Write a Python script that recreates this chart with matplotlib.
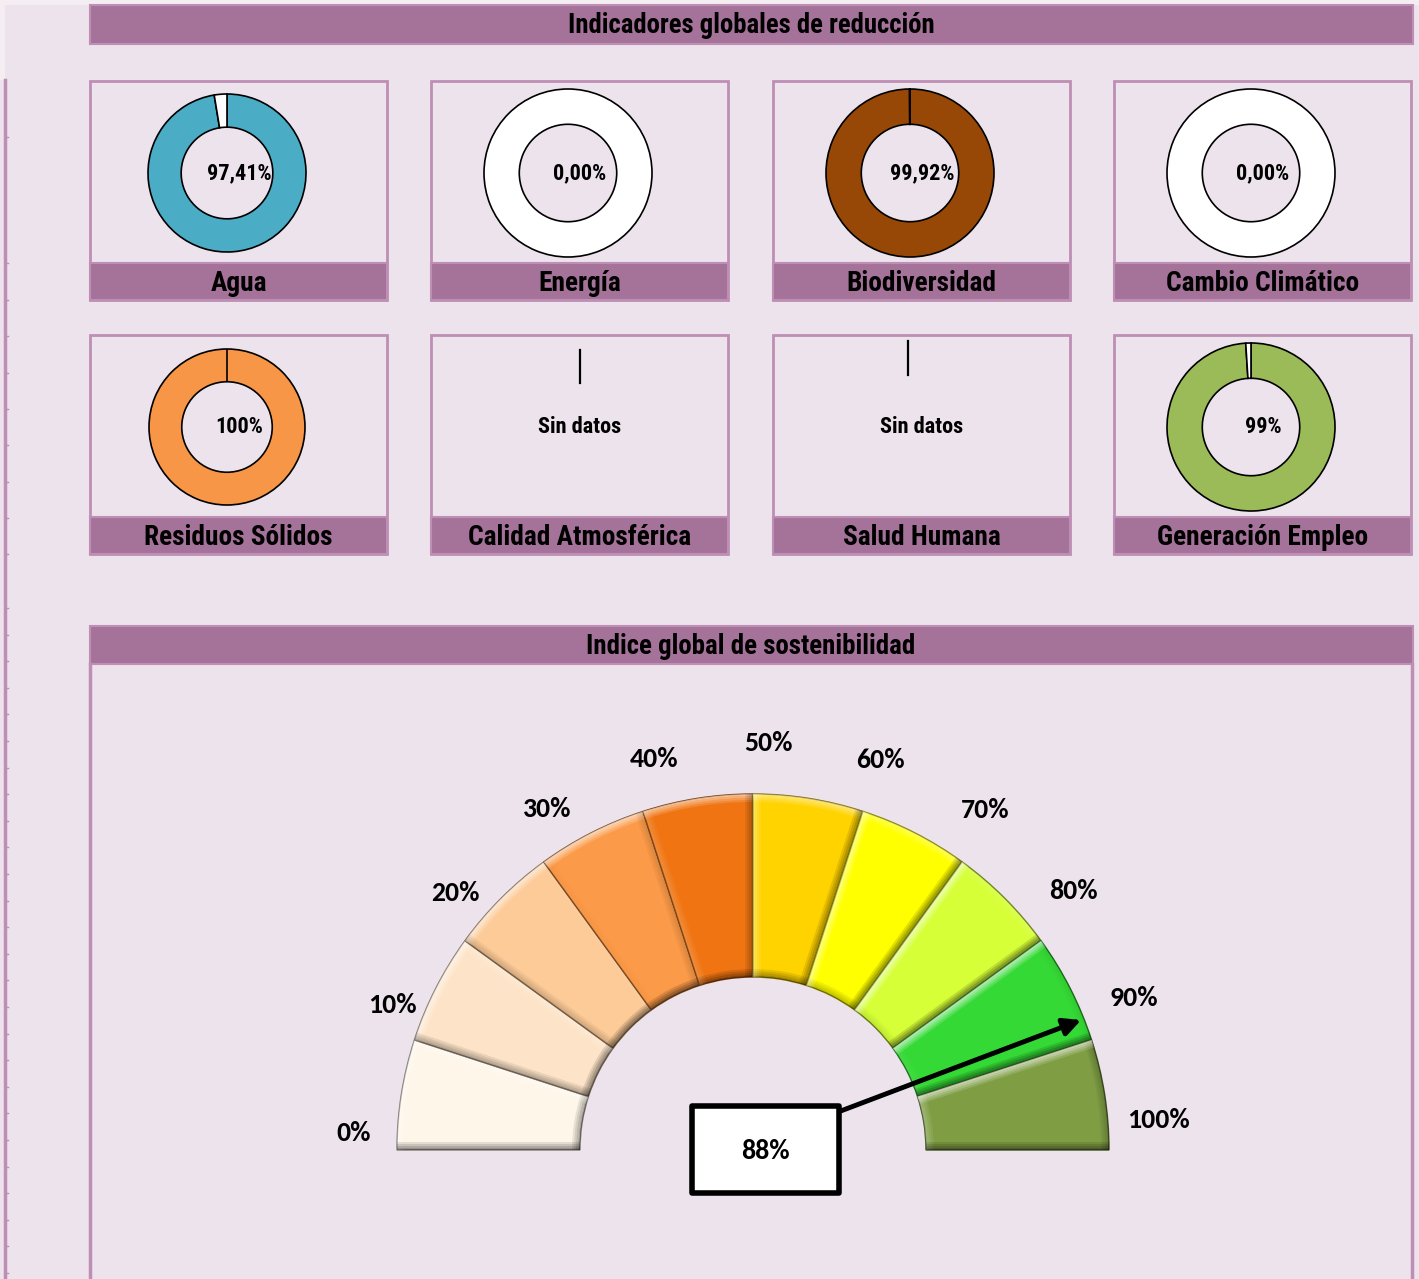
import numpy as np
import matplotlib
matplotlib.use("Agg")
import matplotlib.pyplot as plt
from matplotlib.patches import Rectangle, Wedge, Polygon
from matplotlib import font_manager

# Indicadores globales de reducción (%); None = sin datos
areas = ["Agua", "Energía", "Biodiversidad", "Cambio Climático",
         "Residuos Sólidos", "Calidad Atmosférica", "Salud Humana", "Generación Empleo"]
valores = [97.41, 0.00, 99.92, 0.00, 100, None, None, 99]
decimales = [2, 2, 2, 2, 0, 0, 0, 0]
colores = ["#4BACC6", "#FFFFFF", "#974806", "#FFFFFF",
           "#F79646", None, None, "#9BBB59"]

# Indice global de sostenibilidad
tramos = [0, 10, 20, 30, 40, 50, 60, 70, 80, 90, 100]
colores_tramos = ["#FEF6E9", "#FDE4C8", "#FDCB98", "#FB9A48", "#F07512",
                  "#FFD300", "#FFFF00", "#D6FF38", "#35D935", "#7F9E44"]
indice_global = 88

FONDO = "#EDE3EC"
BARRA = "#A57299"
BORDE = "#BE8EB5"


def peso(f):
    try:
        return int(f.weight)
    except (TypeError, ValueError):
        return 700 if "bold" in str(f.weight) else 400


def elegir(candidatas):
    fuentes = font_manager.fontManager.ttflist
    for c in candidatas:
        if any(f.name == c and peso(f) >= 700 and f.style == "normal" for f in fuentes):
            return c
    return "DejaVu Sans"


ESTRECHA = elegir(["Liberation Sans Narrow", "Arial Narrow", "Archivo Narrow",
                   "Roboto Condensed", "PT Sans Narrow", "Fira Sans Condensed",
                   "Open Sans Condensed", "Sofia Sans Condensed"])
GAUGE_FONT = elegir(["Carlito", "Lato", "Open Sans", "Liberation Sans"])

W, H = 1419, 1279
fig = plt.figure(figsize=(W / 100, H / 100), dpi=100)
fig.patch.set_facecolor(FONDO)

bg = fig.add_axes([0, 0, 1, 1])
bg.set_xlim(0, W)
bg.set_ylim(H, 0)
bg.axis("off")


def px_axes(x0, y0, w, h):
    ax = fig.add_axes([x0 / W, 1 - (y0 + h) / H, w / W, h / H])
    ax.axis("off")
    return ax


def fmt(v, d):
    return f"{v:.{d}f}".replace(".", ",") + "%"


# borde izquierdo de la hoja
bg.add_patch(Rectangle((0, 0), W, 5, fc="#F4EEF3", ec="none"))
bg.add_patch(Rectangle((0, 0), 5, 80, fc="#F4EEF3", ec="none"))
bg.plot([5, 5], [80, H], color=BORDE, lw=2.5)
marcas = [137, 263] + list(np.arange(300, 590, 36.3)) + list(np.arange(608, H, 26.6))
for y in marcas:
    bg.plot([6, 7.5], [y, y], color=BORDE, lw=1)

# cabecera
bg.add_patch(Rectangle((90, 5), 1323, 39, fc=BARRA, ec=BORDE, lw=1.5))
bg.text(751, 25.5, "Indicadores globales de reducción", ha="center", va="center",
        fontsize=19.3, fontweight="bold", family=ESTRECHA)

col_x = [90, 431, 773, 1114]
fila_y = [81, 335]
radios = [79, 84, 84, 84, 78, 0, 0, 84]
lineas_sin_datos = {5: (149, 15, 48), 6: (135, 6, 40)}

for i, area in enumerate(areas):
    f, c = divmod(i, 4)
    x0, y0 = col_x[c], fila_y[f]
    bg.add_patch(Rectangle((x0, y0), 297, 219, fc="none", ec=BORDE, lw=2))
    bg.add_patch(Rectangle((x0, y0 + 182), 297, 37, fc=BARRA, ec=BORDE, lw=1.5))
    bg.text(x0 + 148.5, y0 + 202.5, area, ha="center", va="center",
            fontsize=19.7, fontweight="bold", family=ESTRECHA)

    v = valores[i]
    if v is None:
        dx, ya, yb = lineas_sin_datos[i]
        bg.plot([x0 + dx, x0 + dx], [y0 + ya, y0 + yb], color="black", lw=1.6)
        bg.text(x0 + 149, y0 + 92, "Sin datos", ha="center", va="center",
                fontsize=16, fontweight="bold", family=ESTRECHA)
        continue

    r = radios[i]
    cx, cy = x0 + 137, y0 + 92
    ax = px_axes(cx - r - 3, cy - r - 3, 2 * r + 6, 2 * r + 6)
    ax.pie([v, 100 - v], colors=[colores[i], "white"], startangle=90,
           counterclock=False, radius=1,
           wedgeprops=dict(width=0.42, edgecolor="black", linewidth=1.2))
    lim = (r + 3) / r
    ax.set_xlim(-lim, lim)
    ax.set_ylim(-lim, lim)
    bg.text(x0 + 149, y0 + 92, fmt(v, decimales[i]), ha="center", va="center",
            fontsize=16, fontweight="bold", family=ESTRECHA)

# sección del índice global
bg.add_patch(Rectangle((90, 626), 1323, 38, fc=BARRA, ec=BORDE, lw=1.5))
bg.plot([90, 90], [664, H], color=BORDE, lw=2.5)
bg.plot([1412, 1412], [664, H], color=BORDE, lw=2.5)
bg.text(751, 646.5, "Indice global de sostenibilidad", ha="center", va="center",
        fontsize=19.4, fontweight="bold", family=ESTRECHA)

# velocímetro, en píxeles respecto al centro
R_OUT, R_IN = 356, 173
gx = px_axes(753 - 420, 1150 - 450, 880, 530)
gx.set_xlim(-420, 460)
gx.set_ylim(-80, 450)
gx.set_aspect("equal")

LUZ = np.array([-0.55, 0.83])
LUZ = LUZ / np.linalg.norm(LUZ)


def oscuro(c, k=0.5):
    rgb = np.array(matplotlib.colors.to_rgb(c))
    return tuple(rgb * k)


def franja_radial(ax, ang, sentido, color, alpha):
    u = np.array([np.cos(ang), np.sin(ang)])
    n = sentido * np.array([-np.sin(ang), np.cos(ang)])
    for k in range(4):
        d0, d1 = 2 * k, 2 * k + 2
        pts = [R_IN * u + d0 * n, R_OUT * u + d0 * n, R_OUT * u + d1 * n, R_IN * u + d1 * n]
        ax.add_patch(Polygon(pts, closed=True, fc=color, ec="none",
                             alpha=alpha * (1 - k / 4)))


def sombra(s):
    return ("white", 0.6 * s) if s > 0 else ("black", 0.5 * -s)


for i, color in enumerate(colores_tramos):
    t2 = 180 - 18 * i
    t1 = t2 - 18
    gx.add_patch(Wedge((0, 0), R_OUT, t1, t2, width=R_OUT - R_IN, fc=color,
                       ec=oscuro(color), lw=1.0))
    m = np.radians((t1 + t2) / 2)
    radial = np.array([np.cos(m), np.sin(m)])
    # arco exterior e interior
    col, a = sombra(radial @ LUZ)
    for k in range(4):
        gx.add_patch(Wedge((0, 0), R_OUT - 2 * k, t1, t2, width=2, fc=col, ec="none",
                           alpha=a * (1 - k / 4)))
    col, a = sombra(-radial @ LUZ)
    for k in range(4):
        gx.add_patch(Wedge((0, 0), R_IN + 2 * k + 2, t1, t2, width=2, fc=col, ec="none",
                           alpha=a * (1 - k / 4)))
    # bordes radiales
    a1, a2 = np.radians(t1), np.radians(t2)
    col, a = sombra(np.array([np.sin(a1), -np.cos(a1)]) @ LUZ)
    franja_radial(gx, a1, 1, col, a)
    col, a = sombra(np.array([-np.sin(a2), np.cos(a2)]) @ LUZ)
    franja_radial(gx, a2, -1, col, a)

# rótulos de la escala alrededor del arco
for i, t in enumerate(tramos):
    s = np.pi * i / 10
    ang = np.radians(177.5 - 17.33 * i - 3 * np.sin(s) - 2 * np.sin(2 * s))
    rad = 398 + 14 * np.sin(np.pi * (i - 3) / 9) if i else 400
    gx.text(rad * np.cos(ang), rad * np.sin(ang), f"{t}%", ha="center", va="center",
            fontsize=20, fontweight="bold", family=GAUGE_FONT)

# aguja y recuadro del valor
ang = np.radians(180 * (1 - indice_global / 100))
gx.annotate("", xy=(353 * np.cos(ang), 353 * np.sin(ang)), xytext=(85, 38),
            arrowprops=dict(arrowstyle="-|>", lw=3.5, color="black",
                            mutation_scale=26, shrinkA=0, shrinkB=0))
gx.add_patch(Rectangle((-61, -43), 147, 87, fc="white", ec="black", lw=4,
                       joinstyle="round", zorder=5))
gx.text(12, -1, f"{indice_global}%", ha="center", va="center", fontsize=20,
        fontweight="bold", family=GAUGE_FONT, zorder=6)

fig.savefig("out.png", dpi=100, facecolor=FONDO)
